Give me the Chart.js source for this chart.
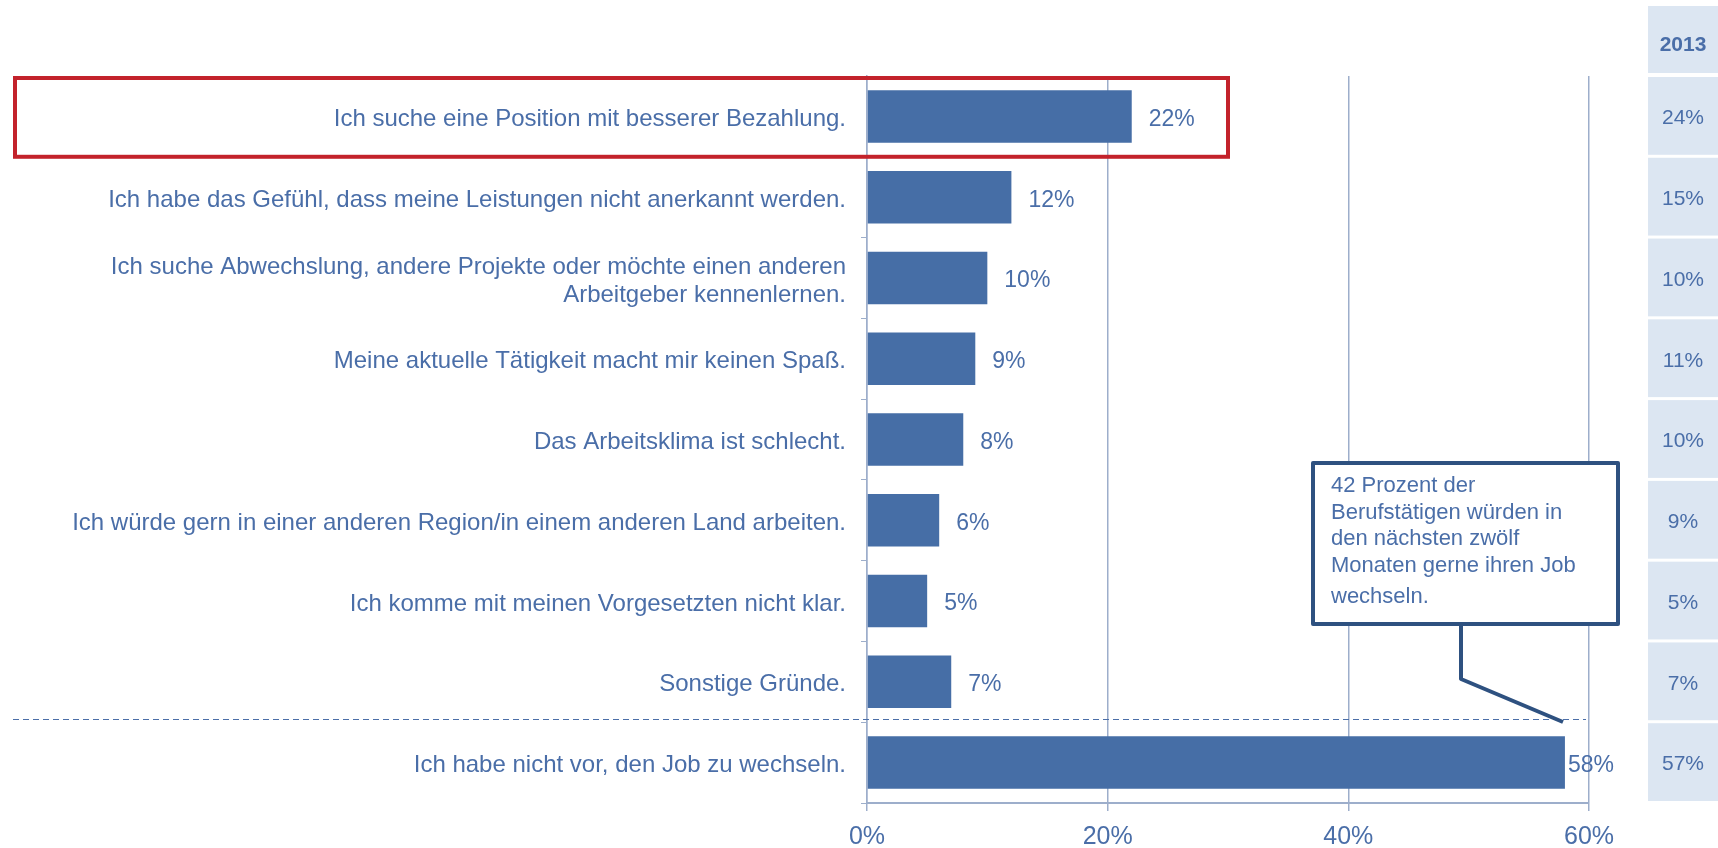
<!DOCTYPE html>
<html>
<head>
<meta charset="utf-8">
<script src="https://cdn.jsdelivr.net/npm/chart.js@4"></script>
<style>
  html, body { margin: 0; padding: 0; background: #fff; }
  #wrap { width: 1718px; height: 848px; position: relative; }
</style>
</head>
<body>
<div id="wrap"><canvas id="chart-reasons"></canvas></div>
<script>
// ── data ──────────────────────────────────────────────
const reasons = [
  'Ich suche eine Position mit besserer Bezahlung.',
  'Ich habe das Gefühl, dass meine Leistungen nicht anerkannt werden.',
  ['Ich suche Abwechslung, andere Projekte oder möchte einen anderen', 'Arbeitgeber kennenlernen.'],
  'Meine aktuelle Tätigkeit macht mir keinen Spaß.',
  'Das Arbeitsklima ist schlecht.',
  'Ich würde gern in einer anderen Region/in einem anderen Land arbeiten.',
  'Ich komme mit meinen Vorgesetzten nicht klar.',
  'Sonstige Gründe.',
  'Ich habe nicht vor, den Job zu wechseln.'
];
const share2014 = [22, 12, 10, 9, 8, 6, 5, 7, 58];
const share2013 = [24, 15, 10, 11, 10, 9, 5, 7, 57];
const compareYear = '2013';
const xTicks = [0, 20, 40, 60];
const calloutLines = [
  '42 Prozent der',
  'Berufstätigen würden in',
  'den nächsten zwölf',
  'Monaten gerne ihren Job',
  'wechseln.'
];

const BLUE = '#4A6EA8';
const BAR = '#466EA6';
const GRID = '#9DAECB';
const SANS = '"Liberation Sans", Arial, sans-serif';

// value labels right of each bar
const valueLabels = {
  id: 'valueLabels',
  afterDatasetsDraw(chart) {
    const ctx = chart.ctx;
    const meta = chart.getDatasetMeta(0);
    ctx.save();
    ctx.font = '23px ' + SANS;
    ctx.fillStyle = BLUE;
    ctx.textAlign = 'left';
    ctx.textBaseline = 'middle';
    meta.data.forEach((bar, i) => {
      const off = i === meta.data.length - 1 ? 3 : 17;
      ctx.fillText(share2014[i] + '%', bar.x + off, bar.y + 3);
    });
    ctx.restore();
  }
};

// comparison column, red frame, separator, callout
const extras = {
  id: 'extras',
  afterDraw(chart) {
    const ctx = chart.ctx;
    const y = chart.scales.y;
    const x = chart.scales.x;
    const step = y.getPixelForValue(1) - y.getPixelForValue(0);
    ctx.save();

    // 2013 column
    const cx0 = 1648, cx1 = 1718;
    ctx.fillStyle = '#DCE6F2';
    ctx.fillRect(cx0, 6, cx1 - cx0, y.top - 3 - 6);
    ctx.font = 'bold 21px ' + SANS;
    ctx.fillStyle = BLUE;
    ctx.textAlign = 'center';
    ctx.textBaseline = 'middle';
    ctx.fillText(compareYear, (cx0 + cx1) / 2, 45);
    ctx.font = '21px ' + SANS;
    share2013.forEach((v, i) => {
      const c = y.getPixelForValue(i);
      ctx.fillStyle = '#DCE6F2';
      ctx.fillRect(cx0, c - step / 2 + 1, cx1 - cx0, step - 3);
      ctx.fillStyle = BLUE;
      ctx.fillText(v + '%', (cx0 + cx1) / 2, c + 2);
    });

    // red frame round first row
    const r = y.getPixelForValue(0);
    ctx.strokeStyle = '#C3222B';
    ctx.lineWidth = 4;
    ctx.strokeRect(15, r - step / 2 + 2, x.getPixelForValue(30) - 15, step - 2);

    // dashed separator above last row
    const sep = Math.round((y.getPixelForValue(reasons.length - 2) + y.getPixelForValue(reasons.length - 1)) / 2 - 3) + 0.5;
    ctx.strokeStyle = BLUE;
    ctx.lineWidth = 1;
    ctx.setLineDash([6, 4]);
    ctx.beginPath();
    ctx.moveTo(13, sep);
    ctx.lineTo(x.right - 3, sep);
    ctx.stroke();
    ctx.setLineDash([]);

    // callout
    const bx = 1313, by = 463, bw = 305, bh = 161;
    ctx.fillStyle = '#fff';
    ctx.fillRect(bx, by, bw, bh);
    ctx.strokeStyle = '#2E5180';
    ctx.lineWidth = 4;
    ctx.lineJoin = 'round';
    ctx.strokeRect(bx, by, bw, bh);
    ctx.beginPath();
    ctx.moveTo(1461, by + bh);
    ctx.lineTo(1461, 679);
    ctx.lineTo(1563, 722);
    ctx.stroke();
    ctx.font = '22px ' + SANS;
    ctx.fillStyle = BLUE;
    ctx.textAlign = 'left';
    ctx.textBaseline = 'alphabetic';
    calloutLines.forEach((t, i) => {
      const ly = 492 + i * 26.5 + (i === calloutLines.length - 1 ? 5 : 0);
      ctx.fillText(t, 1331, ly);
    });

    ctx.restore();
  }
};

new Chart(document.getElementById('chart-reasons'), {
  type: 'bar',
  data: {
    labels: reasons,
    datasets: [{
      data: share2014,
      backgroundColor: BAR,
      borderWidth: 0,
      categoryPercentage: 1,
      barPercentage: 0.65
    }]
  },
  options: {
    indexAxis: 'y',
    responsive: true,
    maintainAspectRatio: false,
    animation: false,
    layout: { padding: { top: 76, right: 129, left: 0, bottom: 0 } },
    scales: {
      x: {
        min: 0,
        max: 60,
        afterFit(scale) { scale.height = 45; },
        afterBuildTicks(scale) { scale.ticks = xTicks.map(v => ({ value: v })); },
        grid: { color: GRID, lineWidth: 1.5, tickLength: 8, drawTicks: true },
        border: { color: GRID, width: 2 },
        ticks: {
          color: BLUE,
          padding: 11,
          font: { family: SANS, size: 25 },
          callback: v => v + '%'
        }
      },
      y: {
        afterFit(scale) { scale.width = 867; },
        grid: { drawOnChartArea: false, color: GRID, tickLength: 6, offset: true },
        border: { color: GRID, width: 1.5 },
        ticks: {
          color: BLUE,
          padding: 15,
          labelOffset: 3,
          font: { family: SANS, size: 24, lineHeight: 1.17 }
        }
      }
    },
    plugins: {
      legend: { display: false },
      tooltip: { enabled: false }
    }
  },
  plugins: [valueLabels, extras]
});
</script>
</body>
</html>
